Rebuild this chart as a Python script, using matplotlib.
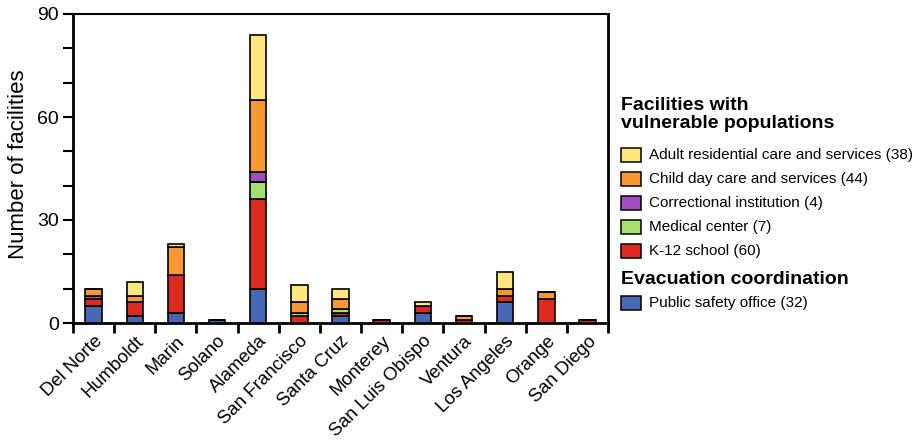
import matplotlib
matplotlib.use("Agg")
import matplotlib.pyplot as plt
from matplotlib.patches import Rectangle
import numpy as np

plt.rcParams['font.family'] = ['Liberation Sans', 'DejaVu Sans']

counties = ["Del Norte", "Humboldt", "Marin", "Solano", "Alameda", "San Francisco",
            "Santa Cruz", "Monterey", "San Luis Obispo", "Ventura", "Los Angeles",
            "Orange", "San Diego"]

public_safety = [5, 2, 3, 1, 10, 0, 2, 0, 3, 0, 6, 0, 0]
k12_school    = [2, 4, 11, 0, 26, 2, 1, 1, 2, 1, 2, 7, 1]
medical       = [0, 0, 0, 0, 5, 1, 1, 0, 0, 0, 0, 0, 0]
correctional  = [1, 0, 0, 0, 3, 0, 0, 0, 0, 0, 0, 0, 0]
child_care    = [2, 2, 8, 0, 21, 3, 3, 0, 0, 1, 2, 2, 0]
adult_care    = [0, 4, 1, 0, 19, 5, 3, 0, 1, 0, 5, 0, 0]

# stacking order, bottom to top
series = [
    ("Public safety office", public_safety, "#4a67b6"),
    ("K-12 school", k12_school, "#dc2b1e"),
    ("Medical center", medical, "#a6df6e"),
    ("Correctional institution", correctional, "#a04dbd"),
    ("Child day care and services", child_care, "#f89632"),
    ("Adult residential care and services", adult_care, "#ffe67f"),
]

fig = plt.figure(figsize=(9.2, 4.45), dpi=100)
ax = fig.add_axes([73/920, 1 - 323/445, (608-73)/920, (323-14)/445])

x = np.arange(len(counties))
bottom = np.zeros(len(counties))
for name, vals, color in series:
    v = np.array(vals, dtype=float)
    ax.bar(x, v, bottom=bottom, width=0.4, color=color, edgecolor="black",
           linewidth=1.2, zorder=3)
    bottom += v

ax.set_xlim(-0.5, len(counties) - 0.5)
ax.set_ylim(0, 90)
ax.set_yticks([0, 30, 60, 90])
ax.set_yticks(np.arange(0, 91, 10), minor=True)
ax.set_xticks(np.arange(len(counties) + 1) - 0.5)
ax.set_xticklabels([])
ax.set_xticks(x, minor=True)
ax.set_xticklabels(counties, minor=True, rotation=45, ha="right",
                   rotation_mode="anchor", fontsize=13.3)
ax.tick_params(axis="x", which="major", direction="out", length=7, width=2)
ax.tick_params(axis="x", which="minor", length=0, pad=7)
ax.tick_params(axis="y", which="both", direction="out", length=7, width=1.5,
               labelsize=14, pad=3)
for s in ["left", "bottom", "right"]:
    ax.spines[s].set_linewidth(2)
ax.spines["top"].set_linewidth(1.5)
ax.set_ylabel("Number of facilities", fontsize=16)
ax.yaxis.set_label_coords(-0.083, 0.515)

# legend
def fx(px):
    return px / 920

def fy(py):
    return 1 - py / 445

fig.text(fx(621), fy(97), "Facilities with\nvulnerable populations", fontsize=14,
         fontweight="bold", va="top", ha="left", linespacing=1.05)
legend_rows = [
    ("Adult residential care and services (38)", "#ffe67f", 155),
    ("Child day care and services (44)", "#f89632", 179),
    ("Correctional institution (4)", "#a04dbd", 203),
    ("Medical center (7)", "#a6df6e", 227),
    ("K-12 school (60)", "#dc2b1e", 251),
    ("Public safety office (32)", "#4a67b6", 303),
]
for label, color, yc in legend_rows:
    fig.patches.append(Rectangle((fx(621), fy(yc + 7)), 20/920, 14/445,
                                 transform=fig.transFigure, facecolor=color,
                                 edgecolor="black", linewidth=1.1))
    fig.text(fx(649), fy(yc), label, fontsize=11, va="center", ha="left")
fig.text(fx(621), fy(280), "Evacuation coordination", fontsize=14,
         fontweight="bold", va="center", ha="left")

fig.savefig("out.png", dpi=100)
